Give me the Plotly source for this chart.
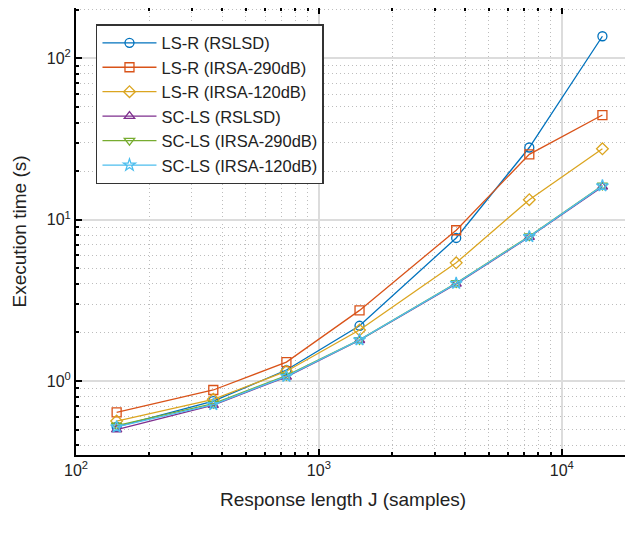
import numpy as np
import plotly.graph_objects as go

# ---- data ----
J = [147, 367.5, 735, 1470, 3675, 7350, 14700]
ls_r_rslsd = [0.52, 0.75, 1.17, 2.20, 7.7, 28.0, 137]
ls_r_irsa290 = [0.64, 0.88, 1.31, 2.74, 8.6, 25.4, 44.5]
ls_r_irsa120 = [0.565, 0.77, 1.15, 2.07, 5.4, 13.3, 27.5]
sc_ls_rslsd = [0.50, 0.71, 1.06, 1.79, 4.0, 7.8, 16.0]
sc_ls_irsa290 = [0.53, 0.725, 1.08, 1.80, 4.05, 7.9, 16.3]
sc_ls_irsa120 = [0.52, 0.715, 1.07, 1.80, 4.03, 7.85, 16.2]

names = ["LS-R (RSLSD)", "LS-R (IRSA-290dB)", "LS-R (IRSA-120dB)",
         "SC-LS (RSLSD)", "SC-LS (IRSA-290dB)", "SC-LS (IRSA-120dB)"]
series = [ls_r_rslsd, ls_r_irsa290, ls_r_irsa120, sc_ls_rslsd, sc_ls_irsa290, sc_ls_irsa120]
colors = ["#0072BD", "#D95319", "#DBA520", "#7E2F8E", "#77AC30", "#4DBEEE"]
symbols = ["circle-open", "square-open", "diamond-open", "triangle-up-open",
           "triangle-down-open", "star-open"]

x_tick_vals = [1e2, 1e3, 1e4]
x_tick_text = ["10<sup>2</sup>", "10<sup>3</sup>", "10<sup>4</sup>"]
y_tick_vals = [1e0, 1e1, 1e2]
y_tick_text = ["10<sup>0</sup>", "10<sup>1</sup>", "10<sup>2</sup>"]
x_title = "Response length J (samples)"
y_title = "Execution time (s)"

x_minor = [m * 10 ** d for d in range(2, 5) for m in range(2, 10)]
y_minor = [m * 10 ** d for d in range(-1, 3) for m in range(2, 10)]

fig = go.Figure()
for name, ys, c, s in zip(names, series, colors, symbols):
    fig.add_trace(go.Scatter(
        x=J, y=ys, name=name, mode="lines+markers",
        line=dict(color=c, width=1.3),
        marker=dict(symbol=s, size=9, color=c, line=dict(color=c, width=1.3)),
    ))

font = "Liberation Sans, Arial, Helvetica, sans-serif"
axis_common = dict(
    type="log", showline=True, linecolor="black", linewidth=2, mirror="allticks",
    ticks="inside", ticklen=6, tickwidth=2, tickcolor="black",
    showgrid=True, gridcolor="#dcdcdc", gridwidth=2, zeroline=False,
    tickfont=dict(family=font, size=16, color="#222"), automargin=False,
)
minor_common = dict(tickmode="array", ticks="inside", ticklen=3, tickwidth=2,
                    tickcolor="black", showgrid=True, gridcolor="#bdbdbd",
                    griddash="1px,3px", gridwidth=1)

# page body has an 8px default margin; size the figure so the plot box lands
# where it sits in the reference (left 76, top 8, right 631, bottom 455)
fig.update_layout(
    width=625, height=529,
    margin=dict(l=68, r=2, t=0, b=82, autoexpand=False),
    paper_bgcolor="white", plot_bgcolor="white",
    font=dict(family=font, color="#222"),
    xaxis=dict(**axis_common, range=[2, 4.285],
               tickvals=x_tick_vals, ticktext=x_tick_text, tickmode="array",
               minor=dict(**minor_common, tickvals=x_minor)),
    yaxis=dict(**axis_common, range=[np.log10(0.348), np.log10(205)],
               tickvals=y_tick_vals, ticktext=y_tick_text, tickmode="array",
               minor=dict(**minor_common, tickvals=y_minor),
               title=dict(text=y_title,
                          font=dict(family=font, size=19, color="#222"), standoff=15)),
    legend=dict(x=0.036, y=0.964, xanchor="left", yanchor="top",
                bgcolor="white", bordercolor="#333", borderwidth=1.5,
                font=dict(family=font, size=16.5, color="#222"),
                itemwidth=54, tracegroupgap=0),
    showlegend=True,
    annotations=[dict(text=x_title, xref="paper", yref="paper", x=0.5, y=0,
                      xanchor="center", yanchor="middle", xshift=-11, yshift=-44,
                      showarrow=False, font=dict(family=font, size=19, color="#222"))],
)

fig.write_html("out.html")
